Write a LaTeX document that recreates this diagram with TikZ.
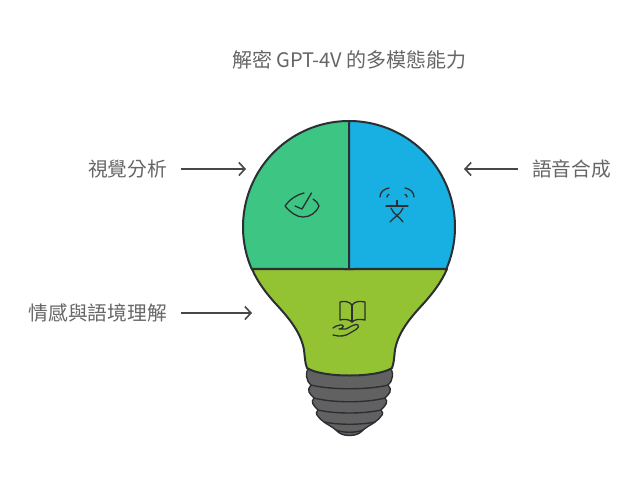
\documentclass[tikz,border=0pt]{standalone}
\usepackage{fontspec}
\setmainfont{Noto Sans CJK TC}
\definecolor{ink}{HTML}{2B2F33}
\definecolor{lbl}{HTML}{666666}
\definecolor{arr}{HTML}{474747}
\definecolor{grn}{HTML}{3CC583}
\definecolor{blu}{HTML}{18B0E2}
\definecolor{olv}{HTML}{93C332}
\definecolor{bas}{HTML}{616161}
\usetikzlibrary{arrows.meta}
\tikzset{
 part/.style={draw=ink,line width=2pt,line join=round},
 glyph/.style={draw=ink,line width=1.3pt,line cap=round,line join=round},
 lab/.style={text=lbl,font=\fontsize{19.7}{22}\selectfont,inner sep=0pt},
 ttl/.style={text=lbl,font=\fontsize{20}{22}\selectfont,inner sep=0pt},
 pointer/.style={draw=arr,line width=1.6pt,-{Straight Barb[length=6pt,width=13pt,line width=1.6pt]}},
 thread/.style={draw=ink,line width=1.4pt}
}
\begin{document}
\begin{tikzpicture}[x=1pt,y=-1pt]
\useasboundingbox (0,0) rectangle (638,485);
\fill[white] (0,0) rectangle (638,485);
% base
\path[part,line width=1.4pt,fill=bas] (309,368) .. controls (306,371) and (306,376) .. (307,378) .. controls (307,381) and (309,383) .. (311,385)
 .. controls (309,387) and (308,390) .. (309,392) .. controls (310,394) and (312,396) .. (314,398)
 .. controls (312,400) and (312,402) .. (313,404) .. controls (314,406) and (316,408) .. (318,410)
 .. controls (316,412) and (316,414) .. (317,415) .. controls (319,418) and (321,420) .. (324,422)
 .. controls (328,425) and (333,427) .. (337,431)
 .. controls (342,437) and (357,437) .. (362,431)
 .. controls (366,427) and (371,425) .. (375,422)
 .. controls (378,420) and (380,418) .. (382,415) .. controls (383,414) and (383,412) .. (381,410)
 .. controls (383,408) and (385,406) .. (386,404) .. controls (387,402) and (387,400) .. (385,398)
 .. controls (387,396) and (389,394) .. (390,392) .. controls (391,390) and (390,387) .. (388,385)
 .. controls (390,383) and (392,381) .. (392,378) .. controls (393,376) and (393,371) .. (390,368) -- cycle;
\draw[thread] (311,385) .. controls (330,390) and (369,390) .. (388,385);
\draw[thread] (314,398) .. controls (333,403) and (366,403) .. (385,398);
\draw[thread] (318,410) .. controls (335,414) and (364,414) .. (381,410);
\draw[thread] (324,422) .. controls (338,425) and (361,425) .. (375,422);
\draw[thread] (336,430) .. controls (343,433) and (356,433) .. (363,430);
% neck
\path[part,fill=olv] (252,269) -- (447,269)
 .. controls (441,283) and (432,294) .. (424,303)
 .. controls (411,317) and (398,332) .. (395,350)
 .. controls (394,358) and (394,363) .. (392,368)
 .. controls (377,378) and (322,378) .. (307,368)
 .. controls (305,363) and (305,358) .. (304,350)
 .. controls (301,332) and (288,317) .. (275,303)
 .. controls (267,294) and (258,283) .. cycle;
% top
\path[part,fill=grn] (349,121) arc[start angle=270,end angle=156.7,radius=106] -- (349,269) -- cycle;
\path[part,fill=blu] (349,121) arc[start angle=-90,end angle=23.3,radius=106] -- (349,269) -- cycle;
% eye icon
\draw[glyph] (304,193) .. controls (296,195) and (289,200) .. (285,206) .. controls (291,213) and (297,217) .. (303,217) .. controls (310,217) and (316,213) .. (319,206) .. controls (318,203) and (316,201) .. (313,199);
\draw[glyph] (295,206) -- (302,209) -- (311.5,193);
% translate icon
\draw[glyph] (380,197) .. controls (380,192) and (384,189) .. (389,188);
\draw[glyph] (387,197) .. controls (387,195) and (388,195) .. (389,194.5);
\draw[glyph] (414,197) .. controls (414,192) and (410,189) .. (405,188);
\draw[glyph] (407,197) .. controls (407,195) and (406,195) .. (405,194.5);
\draw[glyph] (397,200.5) -- (397,206);
\draw[glyph] (386,206) -- (408,206);
\draw[glyph] (391,208) .. controls (393,214) and (400,217) .. (403,222);
\draw[glyph] (403,208) .. controls (401,214) and (394,217) .. (390,222);
% book + hand icon
\draw[glyph] (340,302) .. controls (344,301) and (349,301) .. (352,305) .. controls (355,301) and (360,301) .. (365,302) -- (365,320) .. controls (360,319) and (355,319) .. (352,322) .. controls (349,319) and (344,319) .. (340,320) -- cycle;
\draw[glyph] (352,305) -- (352,322);
\draw[glyph] (333,335) .. controls (340,337) and (346,336) .. (350,333) .. controls (355,330) and (360,328) .. (358,325) .. controls (356,323) and (350,327) .. (346,329) -- (339,329) .. controls (342,329) and (345,326) .. (342,325) -- (340,325) .. controls (337,325) and (335,327) .. (333,328);
% labels
\node[ttl] (title) at (349.5,60) {解密 GPT-4V 的多模態能力};
\node[lab,anchor=east] (vis) at (167,169) {視覺分析};
\node[lab,anchor=west] (aud) at (532,169) {語音合成};
\node[lab,anchor=east] (emo) at (167,313) {情感與語境理解};
\coordinate (vise) at (246,169);
\coordinate (aude) at (464,169);
\coordinate (emoe) at (252,313);
\draw[pointer] (vis.east) ++(14,0) -- (vise);
\draw[pointer] (aud.west) ++(-14,0) -- (aude);
\draw[pointer] (emo.east) ++(14,0) -- (emoe);
\end{tikzpicture}
\end{document}
